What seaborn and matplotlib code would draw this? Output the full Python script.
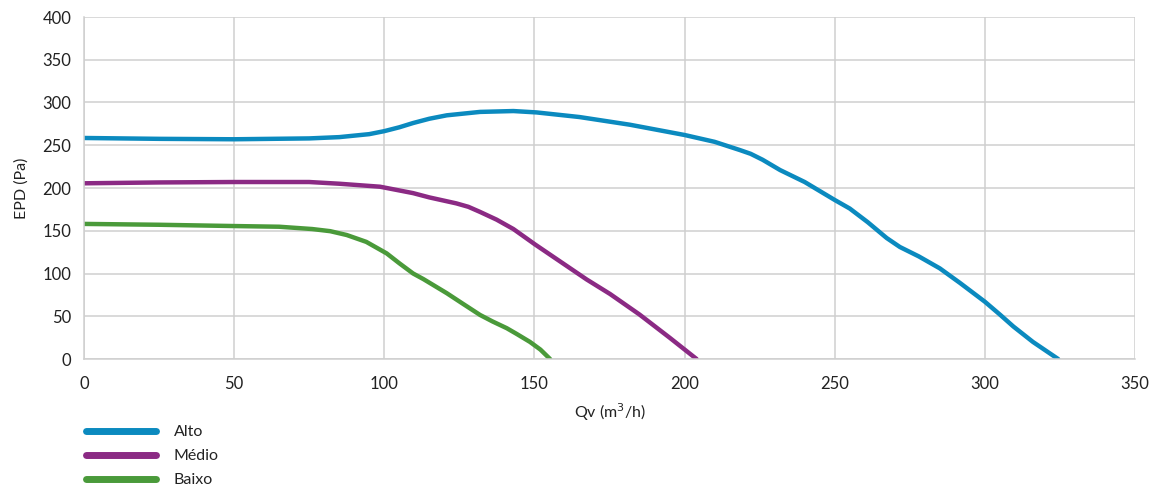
import matplotlib
matplotlib.use("Agg")
import matplotlib.pyplot as plt
import seaborn as sns
import pandas as pd
from matplotlib.lines import Line2D

# Data
alto_x = [0, 25, 50, 75, 85, 95, 100, 105, 109.6, 115, 120.8, 131.9, 143, 150.7, 165, 181.8, 200, 210, 218.4,
          222, 226, 231.8, 240, 250, 255, 261, 267.3, 271.7, 278, 285, 291.7, 300, 305, 309.5, 316, 324.4]
alto_y = [258.5, 257.5, 257, 258, 259.5, 263, 266.5, 271, 276, 281, 285, 289, 290, 288.4, 283, 274, 262, 254, 244.4,
          240, 233, 221, 207, 186, 176, 160, 141.5, 131, 120, 106, 89, 67, 52, 38, 20, 0]

medio_x = [0, 25, 50, 75, 85, 98.6, 109.6, 115, 124, 128, 131.9, 137.4, 143, 150.2, 167.4, 175.2, 185, 195, 204]
medio_y = [205.5, 206.5, 207, 207, 205, 201.5, 194, 189, 182, 178, 172, 163, 152, 134, 93, 76, 52, 25, 0]

baixo_x = [0, 25, 50, 65, 76, 82, 87.5, 94, 100.8, 105, 109.6, 113, 120.8, 126, 131.9, 136, 140.8, 144, 148.5, 152, 155.2]
baixo_y = [158, 157, 155.5, 154.7, 152, 149.5, 145, 137, 123.5, 112, 100, 93.5, 77, 65, 51.5, 44, 36, 29.5, 20, 11, 0]

series_names = ["Alto", "Médio", "Baixo"]
colors = ["#0b8abf", "#8b2a84", "#4a9a3a"]
x_ticks = [0, 50, 100, 150, 200, 250, 300, 350]
y_ticks = [0, 50, 100, 150, 200, 250, 300, 350, 400]

frames = []
for name, xs, ys in zip(series_names, [alto_x, medio_x, baixo_x], [alto_y, medio_y, baixo_y]):
    frames.append(pd.DataFrame({"Qv": xs, "EPD": ys, "serie": name}))
df = pd.concat(frames, ignore_index=True)

sns.set_theme(style="whitegrid")
plt.rcParams["font.family"] = ["Lato", "DejaVu Sans"]

fig = plt.figure(figsize=(11.6, 4.9), dpi=100)
ax = fig.add_axes([84 / 1160, 1 - 359 / 490, (1135 - 84) / 1160, (359 - 17) / 490])

sns.lineplot(data=df, x="Qv", y="EPD", hue="serie", hue_order=series_names,
             palette=colors, sort=False, estimator=None, units="serie",
             linewidth=3.2, ax=ax, legend=False)
for line in ax.get_lines():
    line.set_solid_joinstyle("round")
    line.set_solid_capstyle("round")

ax.set_xlim(0, 350)
ax.set_ylim(0, 400)
ax.set_xticks(x_ticks)
ax.set_yticks(y_ticks)
ax.set_xticklabels([str(t) for t in x_ticks])
ax.set_yticklabels([str(t) for t in y_ticks])
ax.grid(True, color="#cfcfcf", linewidth=1.1)
for s in ["top", "right"]:
    ax.spines[s].set_visible(False)
for s in ["left", "bottom"]:
    ax.spines[s].set_color("#cfcfcf")
    ax.spines[s].set_linewidth(1.1)
ax.tick_params(axis="x", length=5, width=1.1, color="#cfcfcf", pad=7, labelsize=12, labelcolor="#222222")
ax.tick_params(axis="y", length=0, pad=9, labelsize=12, labelcolor="#222222")
ax.set_xlabel("Qv (m$^3$/h)", fontsize=11.5, color="#222222", labelpad=7)
ax.set_ylabel("EPD (Pa)", fontsize=11.5, color="#222222", labelpad=10)

handles = [Line2D([], [], color=c, linewidth=5, solid_capstyle="round") for c in colors]
fig.legend(handles, series_names, loc="upper left", bbox_to_anchor=(86 / 1160, 1 - 425 / 490),
           bbox_transform=fig.transFigure, frameon=False, fontsize=11.5, handlelength=4.4,
           handletextpad=1.1, labelspacing=0.62, borderpad=0, borderaxespad=0,
           labelcolor="#222222")

fig.savefig("out.png", dpi=100)
